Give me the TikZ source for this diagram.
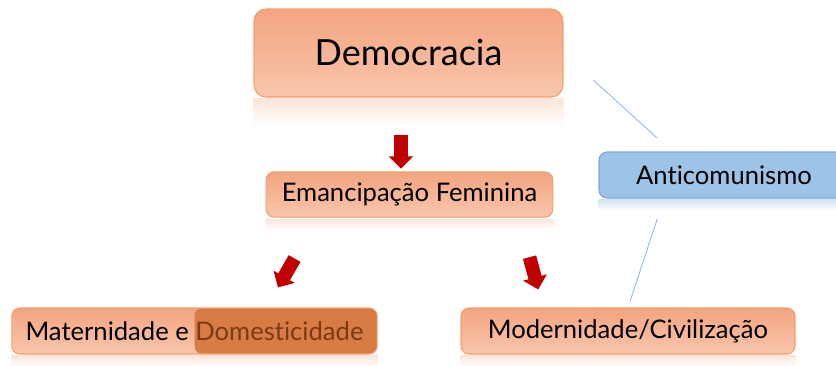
\documentclass[tikz,border=0pt]{standalone}
\usepackage{fontspec}
\setmainfont{Lato}[Ligatures=NoCommon]
\usetikzlibrary{shapes.arrows}

\definecolor{boxtop}{RGB}{243,164,128}
\definecolor{boxbot}{RGB}{248,198,172}
\definecolor{boxline}{RGB}{244,160,110}
\definecolor{domfill}{RGB}{216,124,70}
\definecolor{domtext}{RGB}{122,58,20}
\definecolor{antifill}{RGB}{157,195,230}
\definecolor{antiline}{RGB}{125,166,212}
\definecolor{linkline}{RGB}{141,180,226}
\definecolor{arrowred}{RGB}{192,0,0}

\tikzset{
  box/.style={draw=boxline, line width=0.8pt, rounded corners=6pt, top color=boxtop, bottom color=boxbot, text=black, inner sep=0pt, minimum height=34.5pt, font=\fontsize{19.2}{23}\selectfont},
  bluebox/.style={box, draw=antiline, top color=antifill, bottom color=antifill},
  redarrow/.style={single arrow, fill=arrowred, draw=none, inner xsep=0pt, inner ysep=4.9pt, minimum height=25pt, single arrow head extend=4.1pt},
  link/.style={draw=linkline, line width=0.6pt}
}

\begin{document}
\begin{tikzpicture}[x=0.75pt,y=0.75pt,yscale=-1,xscale=1]
\clip (0,0) rectangle (836,365);

%Boxes
\node[box, rounded corners=9pt, minimum width=231.75pt, minimum height=66pt, font=\fontsize{27}{31}\selectfont] (demo) at (408.5,53) {Democracia};
\node[box, minimum width=215pt, minimum height=34pt] (eman) at (409.5,194.5) {Emancipação Feminina};
\node[box, minimum width=274pt,
  path picture={\fill[domfill, rounded corners=6pt] ([xshift=-137pt]path picture bounding box.north east) rectangle (path picture bounding box.south east);}
  ] (mat) at (194.5,331) {Maternidade e \textcolor{domtext}{Domesticidade}};
\node[box, minimum width=250.5pt] (mod) at (628,331) {Modernidade/Civilização};
\node[bluebox, minimum width=187.5pt] (anti) at (724,175) {Anticomunismo};

%Reflections under the boxes
\foreach \n/\h/\c in {demo/21/boxbot, eman/9/boxbot, mat/9/boxbot, mod/9/boxbot, anti/9/antifill}
  \shade[top color=\c!45, bottom color=white] ([yshift=1pt]\n.south west) rectangle ([yshift=\h pt]\n.south east);

%Red block arrows
\node[redarrow, rotate=-90] (arr1) at (401,148.5) {};
\node[redarrow, rotate=-120] (arr2) at (288,270) {};
\node[redarrow, rotate=-75] (arr3) at (533,270) {};

%Blue links
\draw[link, shorten <=30pt, shorten >=15pt] (demo.east) -- ([xshift=-39pt]anti.north);
\draw[link, shorten <=16pt, shorten >=4.5pt] ([xshift=-45pt]anti.south) -- (mod.north);

\end{tikzpicture}
\end{document}
